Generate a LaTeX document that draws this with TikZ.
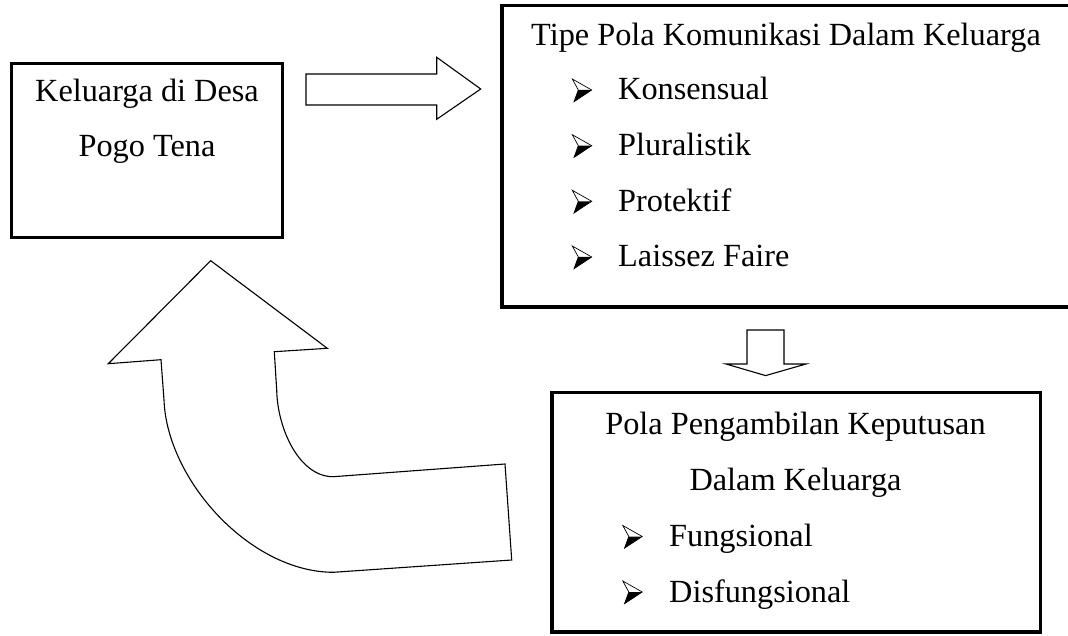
\documentclass[tikz,border=0pt]{standalone}
\usepackage{fontspec}
\setmainfont{Liberation Serif}
\begin{document}
\begin{tikzpicture}[x=1pt,y=-1pt,
  box/.style={draw, line width=3.3pt, inner sep=0pt, outer sep=0pt},
  txt/.style={font=\fontsize{32.3}{38}\selectfont, inner sep=0pt, anchor=base},
  itm/.style={font=\fontsize{32.3}{38}\selectfont, inner sep=0pt, anchor=base west},
  blk/.style={draw, line width=1.1pt, fill=white, line join=miter},
  bullet/.pic={
    \draw[line width=0.7pt, fill=white, line join=miter] (-0.7,-21) -- (18.7,-10) -- (1,1.7) -- (5.3,-10) -- cycle;
    \fill[black] (5.3,-10) -- (18.7,-10) -- (1,1.7) -- cycle;
  }]
\useasboundingbox (0,0) rectangle (1068,636);
% boxes
\node[box, minimum width=270.6pt, minimum height=174.4pt] (b1) at (147,150.5) {};
\node[box, minimum width=573pt, minimum height=301.7pt] (b2) at (788.5,156.15) {};
\node[box, minimum width=488.7pt, minimum height=239.7pt] (b3) at (796.35,512.15) {};
% box 1 text
\node[txt] (t1a) at (147,101.7) {Keluarga di Desa};
\node[txt] (t1b) at (147,156.7) {Pogo Tena};
% box 2 text
\node[txt] (t2) at (786,46) {Tipe Pola Komunikasi Dalam Keluarga};
\pic at (573,100) {bullet};
\node[itm] (i1) at (618,100) {Konsensual};
\pic at (573,155.7) {bullet};
\node[itm] (i2) at (618,155.7) {Pluralistik};
\pic at (573,211.3) {bullet};
\node[itm] (i3) at (618,211.3) {Protektif};
\pic at (573,267) {bullet};
\node[itm] (i4) at (618,267) {Laissez Faire};
% box 3 text
\node[txt] (t3a) at (795.5,434.5) {Pola Pengambilan Keputusan};
\node[txt] (t3b) at (795.5,490) {Dalam Keluarga};
\pic at (623.5,546.5) {bullet};
\node[itm] (i5) at (669,546.5) {Fungsional};
\pic at (623.5,602) {bullet};
\node[itm] (i6) at (669,602) {Disfungsional};
% right block arrow
\draw[blk] (306,74) -- (436.7,74) -- (436.7,57.3) -- (480.7,89) -- (436.7,119.3) -- (436.7,105) -- (306,105) -- cycle;
% down block arrow
\draw[blk] (747,330) -- (784,330) -- (784,364) -- (806,364) -- (765.6,375.6) -- (726,364) -- (747,364) -- cycle;
% curved block arrow
\draw[blk] (210.7,260.7) -- (327.3,348.3) -- (274.3,351.7) -- (276.7,390)
  .. controls (277.5,430) and (300,477) .. (333.3,476.7)
  -- (505,464) -- (511.7,560) -- (333.3,572.3)
  .. controls (250,572) and (167,480) .. (164,400)
  -- (161,359.7) -- (108.3,363.7) -- cycle;
\end{tikzpicture}
\end{document}
